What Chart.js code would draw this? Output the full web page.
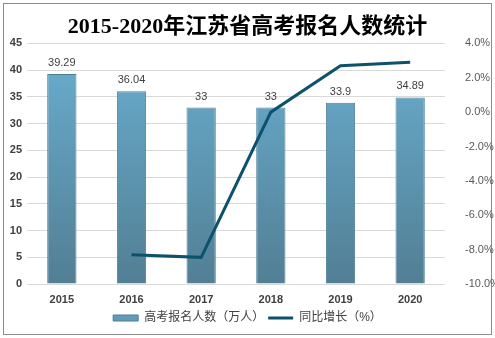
<!DOCTYPE html>
<html>
<head>
<meta charset="utf-8">
<script src="https://cdn.jsdelivr.net/npm/chart.js@4"></script>
<style>
  html, body { margin: 0; padding: 0; background: #fff; }
  #wrap { width: 495px; height: 338px; }
</style>
</head>
<body>
<div id="wrap"><canvas id="gaokaoChart" width="495" height="338"></canvas></div>
<script>
// Chart data
const years = ['2015', '2016', '2017', '2018', '2019', '2020'];
const applicants = [39.29, 36.04, 33, 33, 33.9, 34.89];     // 万人
const growthRate = [null, -8.3, -8.45, 0.0, 2.7, 2.9];      // %
const leftTicks = [0, 5, 10, 15, 20, 25, 30, 35, 40, 45];
const rightTicks = [-10, -8, -6, -4, -2, 0, 2, 4];

const sansFont = "'Liberation Sans', Arial, 'Noto Sans CJK SC', sans-serif";
const lineColor = '#0d526c';

// Vertical gradient for the bars
function barGradient(context) {
    const chart = context.chart;
    const area = chart.chartArea;
    if (!area) return '#62a2c0';
    const g = chart.ctx.createLinearGradient(0, area.top, 0, area.bottom);
    g.addColorStop(0, '#6aaed0');
    g.addColorStop(1, '#527f94');
    return g;
}

// White background and grey frame
const framePlugin = {
    id: 'frame',
    beforeDraw(chart) {
        const ctx = chart.ctx;
        ctx.save();
        ctx.fillStyle = '#ffffff';
        ctx.fillRect(0, 0, chart.width, chart.height);
        ctx.strokeStyle = '#8c8c8c';
        ctx.lineWidth = 1;
        ctx.strokeRect(3.5, 3.5, 488, 331);
        ctx.restore();
    }
};

// Value labels above the bars
const barLabelPlugin = {
    id: 'barLabels',
    afterDatasetsDraw(chart) {
        const ctx = chart.ctx;
        const meta = chart.getDatasetMeta(0);
        ctx.save();
        ctx.font = '11px ' + sansFont;
        ctx.fillStyle = '#404040';
        ctx.textAlign = 'center';
        ctx.textBaseline = 'middle';
        meta.data.forEach((bar, i) => {
            ctx.fillText(String(applicants[i]), bar.x, bar.y - 11);
        });
        ctx.restore();
    }
};

const ctx = document.getElementById('gaokaoChart').getContext('2d');
new Chart(ctx, {
    data: {
        labels: years,
        datasets: [
            {
                type: 'bar',
                label: '高考报名人数（万人）',
                data: applicants,
                yAxisID: 'y',
                backgroundColor: barGradient,
                borderColor: '#4c7f96',
                borderWidth: 1,
                barPercentage: 0.84,
                categoryPercentage: 0.5,
                order: 2
            },
            {
                type: 'line',
                label: '同比增长（%）',
                data: growthRate,
                yAxisID: 'y1',
                borderColor: lineColor,
                backgroundColor: lineColor,
                borderWidth: 3,
                pointRadius: 0,
                tension: 0,
                spanGaps: false,
                order: 1
            }
        ]
    },
    options: {
        responsive: false,
        animation: false,
        layout: { padding: { left: 0, right: 0, top: 0, bottom: 4 } },
        plugins: {
            tooltip: { enabled: false },
            title: {
                display: true,
                text: '2015-2020年江苏省高考报名人数统计',
                color: '#000000',
                font: { family: "'Liberation Serif', 'Noto Sans CJK SC', serif", size: 22, weight: 'bold' },
                padding: { top: 14, bottom: 3 }
            },
            legend: {
                position: 'bottom',
                labels: {
                    color: '#404040',
                    font: { family: sansFont, size: 12 },
                    usePointStyle: true,
                    pointStyleWidth: 25,
                    boxHeight: 6,
                    padding: 4,
                    generateLabels() {
                        return [
                            { text: '高考报名人数（万人）', fillStyle: '#5f9cb9', strokeStyle: '#4c7f96', lineWidth: 1, pointStyle: 'rect', fontColor: '#404040' },
                            { text: '同比增长（%）', fillStyle: lineColor, strokeStyle: lineColor, lineWidth: 3, pointStyle: 'line', fontColor: '#404040' }
                        ];
                    }
                }
            }
        },
        scales: {
            x: {
                grid: { display: false },
                border: { display: false },
                ticks: { color: '#404040', font: { family: sansFont, size: 11, weight: 'bold' }, padding: 1 },
                afterFit(scale) { scale.height = 24; }
            },
            y: {
                position: 'left',
                min: 0,
                max: 45,
                afterBuildTicks(scale) { scale.ticks = leftTicks.map(v => ({ value: v })); },
                grid: { color: '#d9d9d9', drawTicks: false },
                border: { display: false },
                ticks: { color: '#404040', font: { family: sansFont, size: 11, weight: 'bold' }, padding: 5 },
                afterFit(scale) { scale.width = 27; }
            },
            y1: {
                position: 'right',
                min: -10,
                max: 4,
                afterBuildTicks(scale) { scale.ticks = rightTicks.map(v => ({ value: v })); },
                grid: { display: false },
                border: { display: false },
                ticks: {
                    color: '#595959',
                    font: { family: sansFont, size: 11 },
                    padding: 12,
                    callback: v => v.toFixed(1) + '%'
                },
                afterFit(scale) { scale.width = 50; }
            }
        }
    },
    plugins: [framePlugin, barLabelPlugin]
});
</script>
</body>
</html>
